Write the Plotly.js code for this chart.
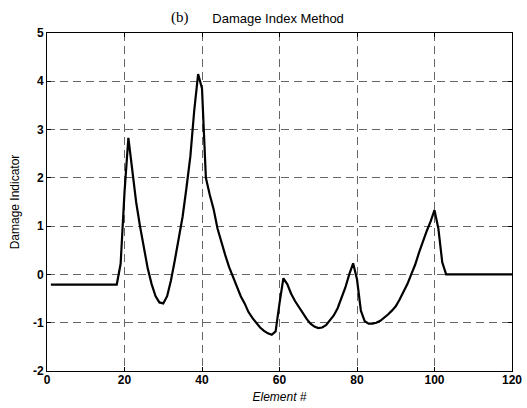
<!DOCTYPE html>
<html>
<head>
<meta charset="utf-8">
<script src="https://cdn.plot.ly/plotly-3.0.1.min.js"></script>
<style>html,body{margin:0;padding:0;background:#fff;}#chart{width:527px;height:408px;}</style>
</head>
<body>
<div id="chart"></div>
<script>
const elements = [];
for (let i = 1; i <= 120; i++) elements.push(i);

const damageIndicator = [
  -0.21,-0.21,-0.21,-0.21,-0.21,-0.21,-0.21,-0.21,-0.21,-0.21,   // 1-10
  -0.21,-0.21,-0.21,-0.21,-0.21,-0.21,-0.21,-0.21, 0.22, 1.70,   // 11-20
   2.83, 2.15, 1.50, 1.00, 0.55, 0.12,-0.20,-0.45,-0.58,-0.60,   // 21-30
  -0.45,-0.12, 0.30, 0.75, 1.20, 1.80, 2.45, 3.40, 4.15, 3.85,   // 31-40
   2.00, 1.65, 1.35, 0.95, 0.65, 0.40, 0.15,-0.05,-0.25,-0.45,   // 41-50
  -0.60,-0.78,-0.90,-1.00,-1.10,-1.17,-1.22,-1.25,-1.18,-0.60,   // 51-60
  -0.08,-0.20,-0.40,-0.55,-0.68,-0.80,-0.92,-1.02,-1.08,-1.11,   // 61-70
  -1.10,-1.05,-0.95,-0.85,-0.70,-0.50,-0.27, 0.00, 0.23,-0.10,   // 71-80
  -0.75,-0.97,-1.02,-1.02,-1.00,-0.96,-0.90,-0.83,-0.75,-0.66,   // 81-90
  -0.52,-0.37,-0.20, 0.00, 0.20, 0.45, 0.70, 0.90, 1.10, 1.33,   // 91-100
   0.95, 0.25, 0.00, 0.00, 0.00, 0.00, 0.00, 0.00, 0.00, 0.00,   // 101-110
   0.00, 0.00, 0.00, 0.00, 0.00, 0.00, 0.00, 0.00, 0.00, 0.00    // 111-120
];

const xTicks = [0, 20, 40, 60, 80, 100, 120];
const yTicks = [-2, -1, 0, 1, 2, 3, 4, 5];

const axisFont = {family: 'Liberation Sans, Arial, sans-serif', size: 12, color: '#000', weight: 'bold'};

const trace = {
  x: elements,
  y: damageIndicator,
  type: 'scatter',
  mode: 'lines',
  line: {color: '#000', width: 2.2},
  hoverinfo: 'skip'
};

const layout = {
  width: 527,
  height: 408,
  margin: {l: 47, r: 15, t: 33, b: 37},
  paper_bgcolor: '#fff',
  plot_bgcolor: '#fff',
  showlegend: false,
  title: {
    text: 'Damage Index Method',
    font: {family: 'Liberation Sans, Arial, sans-serif', size: 13, color: '#000'},
    x: 0.497, xanchor: 'center', xref: 'paper',
    y: 0.955, yanchor: 'middle', yref: 'container'
  },
  annotations: [{
    text: '(b)',
    xref: 'paper', yref: 'paper',
    x: 0.285, y: 1.0, yshift: 16,
    xanchor: 'center', yanchor: 'middle',
    showarrow: false,
    font: {family: 'Liberation Serif, Times New Roman, serif', size: 15, color: '#000'}
  }],
  xaxis: {
    range: [0, 120],
    tickvals: xTicks,
    ticktext: xTicks.map(String),
    tickfont: axisFont,
    showgrid: true,
    gridcolor: '#666',
    griddash: '8px,5px',
    gridwidth: 1,
    zeroline: false,
    showline: true,
    linecolor: '#000',
    linewidth: 1,
    mirror: 'ticks',
    ticks: 'inside',
    ticklen: 4,
    tickcolor: '#000',
    ticklabelstandoff: -2,
    title: {
      text: 'Element #',
      font: {family: 'Liberation Sans, Arial, sans-serif', size: 12, color: '#000', style: 'italic'},
      standoff: 6
    }
  },
  yaxis: {
    range: [-2, 5],
    tickvals: yTicks,
    ticktext: yTicks.map(String),
    tickfont: axisFont,
    showgrid: true,
    gridcolor: '#666',
    griddash: '8px,5px',
    gridwidth: 1,
    zeroline: false,
    showline: true,
    linecolor: '#000',
    linewidth: 1,
    mirror: 'ticks',
    ticks: 'inside',
    ticklen: 4,
    tickcolor: '#000',
    title: {
      text: 'Damage Indicator',
      font: {family: 'Liberation Sans, Arial, sans-serif', size: 12, color: '#000'},
      standoff: 10
    }
  }
};

Plotly.newPlot('chart', [trace], layout, {displayModeBar: false, staticPlot: true});
</script>
</body>
</html>
